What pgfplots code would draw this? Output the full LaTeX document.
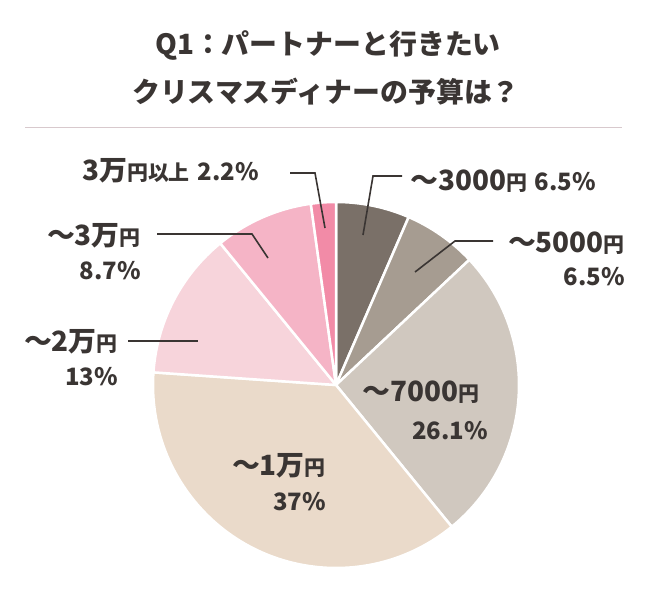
\documentclass[border=0pt]{standalone}
\usepackage{pgfplots}
\pgfplotsset{compat=1.18}
\usepackage{pgfplotstable}
\usepackage{fontspec}
\setmainfont{Noto Sans CJK JP}

\definecolor{cA}{HTML}{7A7068}
\definecolor{cB}{HTML}{A69C91}
\definecolor{cC}{HTML}{D0C8BF}
\definecolor{cD}{HTML}{EADACA}
\definecolor{cE}{HTML}{F7D4DB}
\definecolor{cF}{HTML}{F5B4C6}
\definecolor{cG}{HTML}{F28BA7}
\definecolor{txt}{HTML}{3A3533}
\definecolor{rule}{HTML}{D8C9CD}

% share of each budget band, clockwise from the top
\pgfplotstableread{
band  share color
3000  6.5   cA
5000  6.5   cB
7000  26.1  cC
10000 37    cD
20000 13    cE
30000 8.7   cF
30001 2.2   cG
}\piedata

\newcommand{\lbig}[1]{{\fontsize{28}{30}\selectfont #1}}
\newcommand{\lsm}[1]{{\fontsize{21}{24}\selectfont #1}}
\newcommand{\lpc}[1]{{\fontsize{24}{27}\selectfont #1}}

\begin{document}
\begin{tikzpicture}
\begin{axis}[
    width=646bp, height=599bp, scale only axis,
    xmin=0, xmax=646, ymin=0, ymax=599,
    y dir=reverse, hide axis, clip=false,
]
\addplot[draw=none] coordinates {(0,0) (646,599)};
\path (axis cs:0,0) rectangle (axis cs:646,599);

% pie slices
\pgfmathsetmacro\angA{90}
\pgfplotsforeachungrouped \i in {0,...,6}{
    \pgfplotstablegetelem{\i}{share}\of\piedata \let\v\pgfplotsretval
    \pgfplotstablegetelem{\i}{color}\of\piedata \let\c\pgfplotsretval
    \pgfmathsetmacro\angB{\angA-3.6*\v}
    \edef\temp{\noexpand\fill[\c, draw=white, line width=2.5bp, line join=round]
        (axis cs:336,385) -- ++(\angA:183bp)
        arc[start angle=\angA, end angle=\angB, radius=183bp] -- cycle;}
    \temp
    \global\let\angA\angB
}

% title
\node[font=\bfseries\fontsize{28}{30}\selectfont, text=txt] at (axis cs:328,45) {Q1：パートナーと行きたい};
\node[font=\bfseries\fontsize{28}{30}\selectfont, text=txt] at (axis cs:326,92) {クリスマスディナーの予算は？};
\draw[rule, line width=1bp] (axis cs:25,127) -- (axis cs:622,127);

% leader lines
\begin{scope}[txt, line width=1.6bp]
\draw (axis cs:402,176) -- (axis cs:373,176) -- (axis cs:363,235);
\draw (axis cs:493,241) -- (axis cs:455,241) -- (axis cs:415,272);
\draw (axis cs:128,341) -- (axis cs:198,341);
\draw (axis cs:157,234) -- (axis cs:252,234) -- (axis cs:268,258);
\draw (axis cs:290,173) -- (axis cs:315,173) -- (axis cs:325,228);
\end{scope}

% labels
\begin{scope}[every node/.style={text=txt, font=\bfseries, inner sep=0pt}]
\node[anchor=west] at (axis cs:410,181) {\lbig{〜3000}\lsm{円}\hspace{8bp}\lpc{6.5\%}};
\node[anchor=east] at (axis cs:625,243) {\lbig{〜5000}\lsm{円}};
\node[anchor=east] at (axis cs:625,277) {\lpc{6.5\%}};
\node[anchor=west] at (axis cs:362,392) {\lbig{〜7000}\lsm{円}};
\node[anchor=east] at (axis cs:488,431) {\lpc{26.1\%}};
\node[anchor=east] at (axis cs:326,466) {\lbig{〜1万}\lsm{円}};
\node[anchor=east] at (axis cs:326,502) {\lpc{37\%}};
\node[anchor=east] at (axis cs:118,342) {\lbig{〜2万}\lsm{円}};
\node[anchor=east] at (axis cs:118,377) {\lpc{13\%}};
\node[anchor=east] at (axis cs:141,236) {\lbig{〜3万}\lsm{円}};
\node[anchor=east] at (axis cs:141,271) {\lpc{8.7\%}};
\node[anchor=west] at (axis cs:82,171) {\lbig{3万}\lsm{円以上}\hspace{8bp}\lpc{2.2\%}};
\end{scope}
\end{axis}
\end{tikzpicture}
\end{document}
